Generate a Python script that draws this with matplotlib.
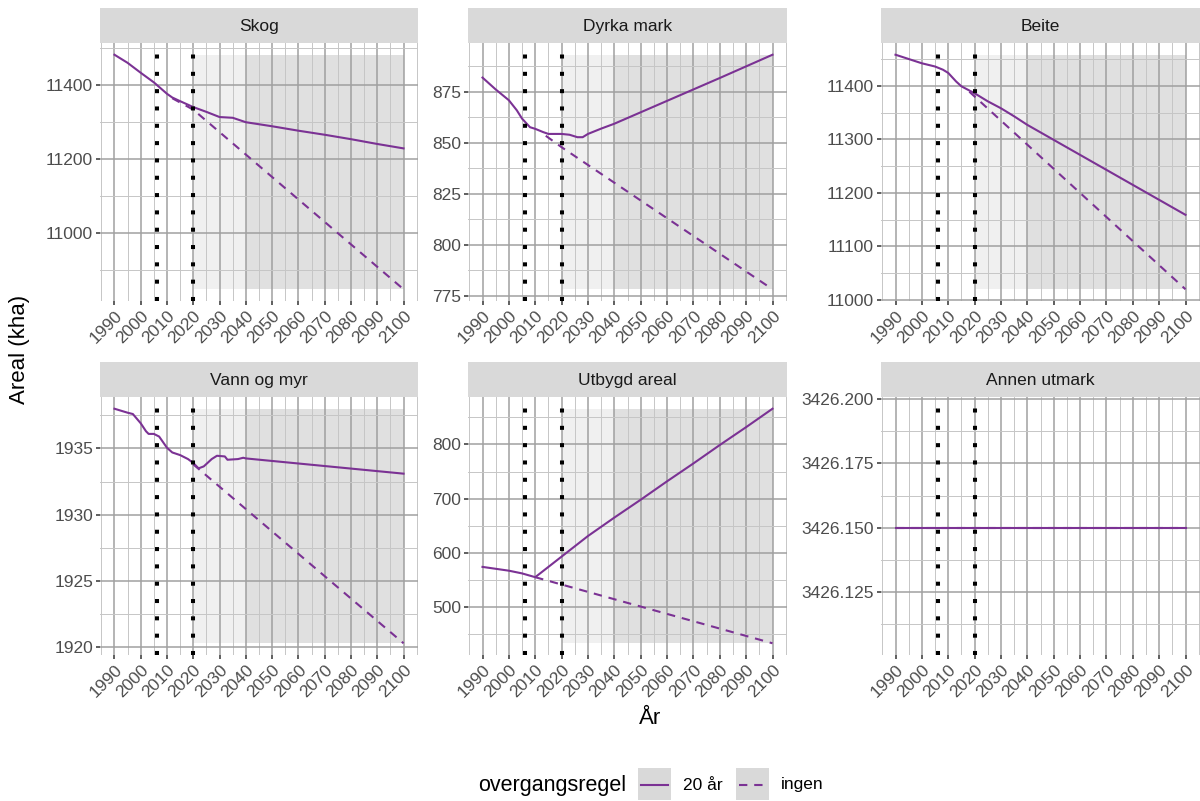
import matplotlib.pyplot as plt
from matplotlib.ticker import MultipleLocator, FormatStrFormatter
from matplotlib.patches import Rectangle
from matplotlib.lines import Line2D

plt.rcParams['font.family'] = ['Liberation Sans', 'DejaVu Sans']

LILLA = '#7b3294'

# Skog (kha)
skog_aar = [1990, 1995, 2000, 2005, 2010, 2012, 2015, 2020, 2025, 2030, 2035,
            2040, 2050, 2060, 2070, 2080, 2090, 2100]
skog_20 = [11483, 11461, 11434, 11408, 11377, 11367, 11357, 11341, 11328, 11314,
           11312, 11300, 11289, 11277, 11266, 11254, 11241, 11229]
skog_ingen_aar = [2012, 2020, 2100]
skog_ingen = [11365, 11334, 10847]

# Dyrka mark
dyrka_aar = [1990, 1995, 2000, 2003, 2005, 2008, 2010, 2013, 2015, 2020, 2023,
             2026, 2028, 2030, 2035, 2040, 2050, 2060, 2070, 2080, 2090, 2100]
dyrka_20 = [882.0, 876.2, 870.9, 866.0, 861.9, 857.7, 856.9, 855.3, 854.4, 854.4,
            854.0, 852.8, 852.8, 854.4, 857.0, 859.4, 865.0, 870.6, 876.2, 881.8,
            887.5, 893.2]
dyrka_ingen_aar = [2014, 2020, 2100]
dyrka_ingen = [853.5, 847.9, 778.3]

# Beite
beite_aar = [1990, 2000, 2005, 2008, 2010, 2013, 2015, 2020, 2025, 2030, 2035,
             2040, 2050, 2060, 2070, 2080, 2090, 2100]
beite_20 = [11458, 11442, 11436, 11430, 11424, 11408, 11399, 11386, 11371, 11358,
            11343, 11327, 11299, 11271, 11243, 11215, 11187, 11159]
beite_ingen_aar = [2018, 2020, 2100]
beite_ingen = [11389, 11380, 11020]

# Vann og myr
vann_aar = [1990, 1995, 1997, 2000, 2002, 2003, 2005, 2007, 2010, 2012, 2015,
            2018, 2020, 2022, 2024, 2027, 2029, 2032, 2033, 2037, 2039, 2040, 2100]
vann_20 = [1938.0, 1937.7, 1937.6, 1936.9, 1936.3, 1936.1, 1936.1, 1935.9, 1935.05,
           1934.7, 1934.5, 1934.2, 1933.9, 1933.5, 1933.65, 1934.2, 1934.45, 1934.4,
           1934.15, 1934.2, 1934.3, 1934.25, 1933.1]
vann_ingen_aar = [2020, 2100]
vann_ingen = [1933.8, 1920.3]

# Utbygd areal
utbygd_aar = [1990, 2000, 2005, 2010, 2020, 2030, 2040, 2050, 2060, 2070, 2080,
              2090, 2100]
utbygd_20 = [574, 567, 562, 555, 593, 631, 665, 698, 732, 765, 799, 832, 866]
utbygd_ingen_aar = [2010, 2100]
utbygd_ingen = [555, 433]

# Annen utmark
annen_aar = [1990, 2100]
annen_20 = [3426.15, 3426.15]
annen_ingen_aar = [1990, 2100]
annen_ingen = [3426.15, 3426.15]

navn = ['Skog', 'Dyrka mark', 'Beite', 'Vann og myr', 'Utbygd areal', 'Annen utmark']
aar_20 = [skog_aar, dyrka_aar, beite_aar, vann_aar, utbygd_aar, annen_aar]
verdi_20 = [skog_20, dyrka_20, beite_20, vann_20, utbygd_20, annen_20]
aar_ingen = [skog_ingen_aar, dyrka_ingen_aar, beite_ingen_aar, vann_ingen_aar,
             utbygd_ingen_aar, annen_ingen_aar]
verdi_ingen = [skog_ingen, dyrka_ingen, beite_ingen, vann_ingen, utbygd_ingen,
               annen_ingen]
ysteg = [200, 25, 100, 5, 100, 0.025]
yformat = ['%d', '%d', '%d', '%d', '%d', '%.3f']

overgang = [2006, 2020]

W, H = 1200, 801
fig = plt.figure(figsize=(W / 100, H / 100), dpi=100)


def px_axes(x0, y0, x1, y1):
    return fig.add_axes([x0 / W, 1 - y1 / H, (x1 - x0) / W, (y1 - y0) / H])


kolonner = [(100, 418), (468, 787), (881, 1200)]
rader = [(8, 43, 301), (362, 397, 655)]

for i in range(6):
    r, k = divmod(i, 3)
    x0, x1 = kolonner[k]
    s0, p0, p1 = rader[r]
    ax = px_axes(x0, p0, x1, p1)

    # strip with panel name
    strip = px_axes(x0, s0, x1, p0)
    strip.set_facecolor('#d9d9d9')
    strip.set_xticks([])
    strip.set_yticks([])
    for sp in strip.spines.values():
        sp.set_visible(False)
    strip.text(0.5, 0.47, navn[i], ha='center', va='center', fontsize=12.5,
               color='#1a1a1a')

    alle = list(verdi_20[i]) + list(verdi_ingen[i])
    lo, hi = min(alle), max(alle)

    # projection period shading
    ax.add_patch(Rectangle((2020, lo), 20, hi - lo, facecolor='#f0f0f0',
                           lw=0, zorder=0.2))
    ax.add_patch(Rectangle((2040, lo), 60, hi - lo, facecolor='#e0e0e0',
                           lw=0, zorder=0.2))

    ax.plot(aar_ingen[i], verdi_ingen[i], color=LILLA, lw=1.5,
            dashes=(4, 3.3), zorder=3)
    ax.plot(aar_20[i], verdi_20[i], color=LILLA, lw=1.5, zorder=3.1)

    for x in overgang:
        ax.axvline(x, color='black', lw=2.9, ls=(0, (1, 3.3)),
                   dash_capstyle='butt', zorder=4)

    ax.set_xlim(1984.5, 2105.5)
    if hi > lo:
        pad = (hi - lo) * 0.05
        ax.set_ylim(lo - pad, hi + pad)
    else:
        ax.set_ylim(lo - 0.0494, lo + 0.0508)

    ax.xaxis.set_major_locator(MultipleLocator(10))
    ax.xaxis.set_minor_locator(MultipleLocator(5))
    ax.yaxis.set_major_locator(MultipleLocator(ysteg[i]))
    ax.yaxis.set_minor_locator(MultipleLocator(ysteg[i] / 2))
    ax.yaxis.set_major_formatter(FormatStrFormatter(yformat[i]))

    ax.set_axisbelow(True)
    ax.grid(which='major', color='#a0a0a0', lw=1.1)
    ax.grid(which='minor', color='#c6c6c6', lw=0.7)
    for sp in ax.spines.values():
        sp.set_visible(False)
    ax.tick_params(which='major', length=3, width=1.1, color='#333333',
                   labelsize=12.5, labelcolor='#4d4d4d', pad=2)
    ax.tick_params(which='minor', length=0)
    for lab in ax.get_xticklabels():
        lab.set_rotation(45)
        lab.set_ha('right')
        lab.set_va('top')
        lab.set_rotation_mode('anchor')

fig.text(20 / W, 1 - 349 / H, 'Areal (kha)', rotation=90, ha='center',
         va='center', fontsize=16, color='black')
fig.text(650 / W, 1 - 718 / H, 'År', ha='center', va='center', fontsize=16,
         color='black')

# legend
fig.text(626 / W, 1 - 785 / H, 'overgangsregel', ha='right', va='center',
         fontsize=15.5, color='black')
etiketter = ['20 år', 'ingen']
stiler = ['-', '--']
nokkel_x = [638, 736]
for lab, stil, kx in zip(etiketter, stiler, nokkel_x):
    fig.add_artist(Rectangle((kx / W, 1 - 800 / H), 33 / W, 32 / H,
                             transform=fig.transFigure, facecolor='#d9d9d9',
                             lw=0))
    linje = Line2D([(kx + 3) / W, (kx + 30) / W], [1 - 785 / H, 1 - 785 / H],
                   transform=fig.transFigure, color=LILLA, lw=1.5)
    if stil == '--':
        linje.set_dashes((4, 3.3))
    fig.add_artist(linje)
    fig.text((kx + 45) / W, 1 - 785 / H, lab, ha='left', va='center',
             fontsize=12.5, color='black')

fig.savefig('out.png', dpi=100)
